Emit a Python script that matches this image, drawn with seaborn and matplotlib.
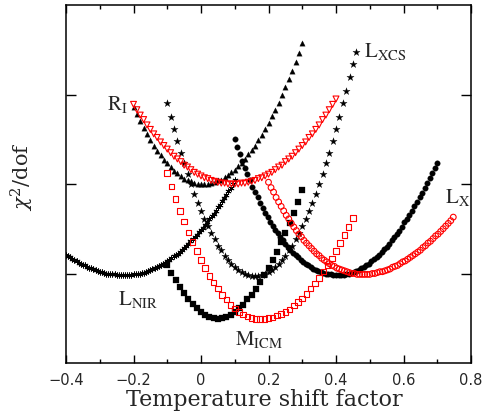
import numpy as np
import pandas as pd
import matplotlib
matplotlib.use("Agg")
import matplotlib.pyplot as plt
import seaborn as sns

# ---------------- data ----------------
# R_I, black filled triangles: x = -0.20 .. 0.30
ri_black_x = np.linspace(-0.20, 0.30, 51)
ri_black_y = [2.86, 2.78, 2.70, 2.63, 2.56, 2.49, 2.43, 2.37, 2.32, 2.27,
              2.23, 2.19, 2.15, 2.12, 2.09, 2.06, 2.04, 2.03, 2.01, 2.00,
              2.00,
              2.00, 2.00, 2.01, 2.02, 2.04, 2.05, 2.08, 2.10, 2.13, 2.16,
              2.20, 2.24, 2.28, 2.33, 2.38, 2.43, 2.49, 2.55, 2.62, 2.68,
              2.76, 2.83, 2.91, 2.99, 3.08, 3.17, 3.26, 3.36, 3.46, 3.57]

# R_I, red open triangles: x = -0.20 .. 0.40
ri_red_x = np.linspace(-0.20, 0.40, 61)
ri_red_y = [2.89, 2.83, 2.77, 2.72, 2.66, 2.61, 2.56, 2.52, 2.47, 2.43,
            2.39, 2.35, 2.31, 2.28, 2.25, 2.21, 2.19, 2.16, 2.13, 2.11,
            2.09, 2.07, 2.06, 2.04, 2.03, 2.02, 2.01, 2.01, 2.00, 2.00,
            2.00, 2.00, 2.01, 2.01, 2.02, 2.03, 2.04, 2.06, 2.07, 2.09,
            2.11, 2.13, 2.16, 2.19, 2.21, 2.25, 2.28, 2.31, 2.35, 2.39,
            2.43, 2.47, 2.52, 2.56, 2.61, 2.66, 2.72, 2.77, 2.83, 2.89,
            2.95]

# L_XCS, black stars: x = -0.10 .. 0.46
lxcs_x = np.linspace(-0.10, 0.46, 57)
lxcs_y = [2.90, 2.75, 2.61, 2.48, 2.35, 2.23, 2.11, 2.00, 1.89, 1.79,
          1.70, 1.61, 1.53, 1.45, 1.38, 1.31, 1.26, 1.20, 1.15, 1.11,
          1.07, 1.04, 1.02, 1.00, 0.98, 0.97, 0.97, 0.97, 0.98, 1.00,
          1.02, 1.04, 1.07, 1.11, 1.15, 1.20, 1.26, 1.31, 1.38, 1.45,
          1.53, 1.61, 1.70, 1.79, 1.89, 2.00, 2.11, 2.23, 2.35, 2.48,
          2.61, 2.75, 2.90, 3.04, 3.19, 3.34, 3.48]

# L_NIR, black asterisks: x = -0.40 .. 0.10
lnir_x = np.linspace(-0.40, 0.10, 81)
lnir_y = [1.21, 1.19, 1.18, 1.16, 1.15, 1.14, 1.12, 1.11, 1.10, 1.09,
          1.07, 1.06, 1.06, 1.05, 1.04, 1.03, 1.02, 1.02, 1.01, 1.00,
          1.00, 0.99, 0.99, 0.99, 0.98, 0.98, 0.98, 0.98, 0.98, 0.98,
          0.98, 0.98, 0.99, 0.99, 0.99, 1.00, 1.01, 1.01, 1.02, 1.03,
          1.04, 1.05, 1.06, 1.07, 1.08, 1.09, 1.11, 1.12, 1.14, 1.15,
          1.17, 1.19, 1.21, 1.22, 1.24, 1.26, 1.29, 1.31, 1.33, 1.36,
          1.38, 1.41, 1.43, 1.46, 1.49, 1.51, 1.54, 1.57, 1.61, 1.64,
          1.67, 1.70, 1.74, 1.77, 1.81, 1.84, 1.88, 1.92, 1.96, 2.00,
          2.04]

# L_X, black filled dots: x = 0.10 .. 0.70
lx_black_x = np.linspace(0.10, 0.70, 81)
lx_black_y = [2.50, 2.41, 2.33, 2.26, 2.18, 2.11, 2.04, 1.97, 1.91, 1.85,
              1.79, 1.73, 1.68, 1.63, 1.58, 1.53, 1.49, 1.45, 1.41, 1.37,
              1.33, 1.30, 1.26, 1.23, 1.21, 1.18, 1.15, 1.13, 1.11, 1.09,
              1.07, 1.05, 1.04, 1.03, 1.02, 1.01, 1.00, 0.99, 0.99, 0.98,
              0.98, 0.98, 0.98, 0.98, 0.99, 1.00, 1.01, 1.02, 1.03, 1.04,
              1.06, 1.07, 1.09, 1.11, 1.14, 1.16, 1.18, 1.21, 1.24, 1.27,
              1.30, 1.33, 1.37, 1.41, 1.44, 1.48, 1.52, 1.57, 1.61, 1.65,
              1.70, 1.75, 1.80, 1.85, 1.90, 1.96, 2.01, 2.07, 2.12, 2.18,
              2.24]

# L_X, red open circles: x = 0.20 .. 0.7475
lx_red_x = np.linspace(0.20, 0.7475, 74)
lx_red_y = [2.02, 1.96, 1.91, 1.85, 1.80, 1.75, 1.70, 1.65, 1.61, 1.56,
            1.52, 1.48, 1.44, 1.41, 1.37, 1.34, 1.31, 1.28, 1.25, 1.22,
            1.20, 1.17, 1.15, 1.13, 1.11, 1.09, 1.08, 1.06, 1.05, 1.04,
            1.03, 1.02, 1.01, 1.00, 1.00, 0.99, 0.99, 0.99, 0.99, 0.99,
            0.99, 1.00, 1.00, 1.01, 1.02, 1.02, 1.03, 1.04, 1.05, 1.07,
            1.08, 1.09, 1.11, 1.13, 1.14, 1.16, 1.18, 1.20, 1.22, 1.24,
            1.26, 1.29, 1.31, 1.34, 1.36, 1.39, 1.42, 1.44, 1.47, 1.50,
            1.53, 1.56, 1.59, 1.63]

# M_ICM, black filled squares: x = -0.10 .. 0.30
micm_black_x = np.linspace(-0.10, 0.30, 33)
micm_black_y = [1.10, 1.01, 0.93, 0.85, 0.78, 0.72, 0.66, 0.62, 0.57, 0.54,
                0.51, 0.50, 0.49,
                0.50, 0.51, 0.54, 0.57, 0.61, 0.65, 0.71, 0.76, 0.83, 0.90,
                0.98, 1.06, 1.15, 1.24, 1.35, 1.45, 1.56, 1.68, 1.80, 1.93]

# M_ICM, red open squares: x = -0.10 .. 0.45
micm_red_x = np.linspace(-0.10, 0.45, 45)
micm_red_y = [2.12, 1.97, 1.83, 1.70, 1.58, 1.46, 1.35, 1.25, 1.15, 1.06,
              0.97, 0.90, 0.83, 0.76, 0.71, 0.65, 0.61, 0.57, 0.54, 0.52,
              0.50, 0.49, 0.49, 0.49, 0.50, 0.51, 0.53, 0.55, 0.57, 0.60,
              0.64, 0.68, 0.72, 0.77, 0.83, 0.89, 0.95, 1.02, 1.09, 1.17,
              1.25, 1.34, 1.43, 1.52, 1.62]

x_ticks = [-0.4, -0.2, 0.0, 0.2, 0.4, 0.6, 0.8]
x_tick_labels = ["\u22120.4", "\u22120.2", "0", "0.2", "0.4", "0.6", "0.8"]
x_minor = [-0.3, -0.1, 0.1, 0.3, 0.5, 0.7]
y_ticks = [1, 2, 3]

curve_labels = [
    (r"$\mathrm{R_I}$", -0.278, 2.83),
    (r"$\mathrm{L_{XCS}}$", 0.482, 3.42),
    (r"$\mathrm{L_X}$", 0.723, 1.79),
    (r"$\mathrm{L_{NIR}}$", -0.246, 0.65),
    (r"$\mathrm{M_{ICM}}$", 0.102, 0.20),
]

# ---------------- plot ----------------
sns.set_style("ticks")
plt.rcParams["font.family"] = ["DejaVu Sans"]

fig = plt.figure(figsize=(4.92, 4.16), dpi=100)
ax = fig.add_axes([66 / 492, 1 - 363 / 416, 405 / 492, 358 / 416])

RED = "#ff0000"

def filled(x, y, marker, s):
    sns.scatterplot(x=x, y=y, ax=ax, marker=marker, s=s, color="black",
                    edgecolor="black", linewidth=0.2, zorder=3)

def openm(x, y, marker, s):
    sns.scatterplot(x=x, y=y, ax=ax, marker=marker, s=s, color=RED,
                    facecolor="none", edgecolor=RED, linewidth=0.8, zorder=4)

filled(ri_black_x, ri_black_y, "^", 15)
filled(lxcs_x, lxcs_y, "*", 30)
sns.scatterplot(x=lnir_x, y=lnir_y, ax=ax, marker=(6, 2, 0), s=15,
                color="black", linewidth=0.6, zorder=3)
filled(lx_black_x, lx_black_y, "o", 16)
filled(micm_black_x, micm_black_y, "s", 18)

openm(ri_red_x, ri_red_y, "v", 18)
openm(lx_red_x, lx_red_y, "o", 17)
openm(micm_red_x, micm_red_y, "s", 16)

for txt, x, y in curve_labels:
    ax.text(x, y, txt, fontsize=15, math_fontfamily="stix",
            ha="left", va="baseline")

ax.set_xlim(-0.4, 0.8)
ax.set_ylim(0, 4)
ax.set_xticks(x_ticks)
ax.set_xticklabels(x_tick_labels, fontsize=10.5)
ax.set_xticks(x_minor, minor=True)
ax.set_yticks(y_ticks)
ax.set_yticklabels([])
ax.tick_params(which="both", direction="in", top=True, right=True,
               width=1.0, color="black")
ax.tick_params(axis="x", which="major", length=6, pad=7)
ax.tick_params(axis="x", which="minor", length=3)
ax.tick_params(axis="y", which="major", length=7)
for sp in ax.spines.values():
    sp.set_linewidth(1.1)
    sp.set_color("black")

ax.set_xlabel("Temperature shift factor", fontsize=16,
              family="DejaVu Serif", math_fontfamily="dejavuserif")
ax.set_ylabel(r"$\chi^2$/dof", fontsize=15,
              family="DejaVu Serif", math_fontfamily="dejavuserif")
ax.xaxis.set_label_coords(0.49, -0.072)
ax.yaxis.set_label_coords(-0.075, 0.52)

fig.savefig("out.png", dpi=100)
